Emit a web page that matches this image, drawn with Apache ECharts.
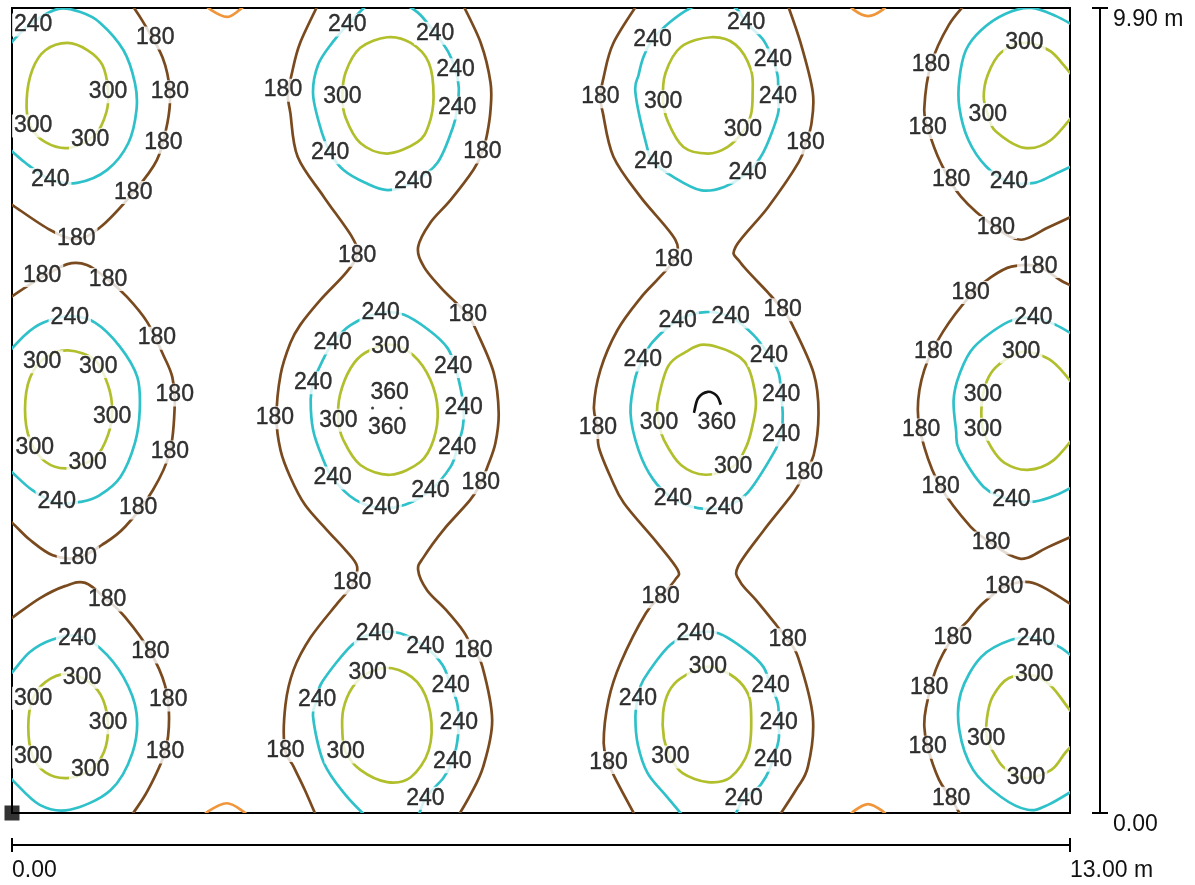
<!DOCTYPE html>
<html><head><meta charset="utf-8">
<script src="https://cdn.jsdelivr.net/npm/echarts/dist/echarts.min.js"></script>
<style>html,body{margin:0;padding:0;background:#fff}#c{width:1195px;height:885px}</style>
</head><body><div id="c"></div>
<script>
// ---- axis ticks (metres) ----
const xTicks = [0, 13];
const xTickLabels = ['0.00', '13.00 m'];
const yTicks = [0, 9.9];
const yTickLabels = ['0.00', '9.90 m'];

// ---- isolux contour polylines, in metres ----
const contour180 = [
  [[1.43,10.0],[1.61,9.73],[1.85,9.29],[1.94,8.87],[1.91,8.49],[1.78,8.03],[1.49,7.63],[1.08,7.20],[0.79,7.06],[0.47,7.17],[0,7.48],[-0.15,7.58]],
  [[-0.15,6.25],[0.16,6.46],[0.37,6.59],[0.68,6.75],[0.92,6.74],[1.18,6.56],[1.41,6.35],[1.66,6.04],[1.86,5.63],[1.97,5.36],[2.00,5.03],[1.94,4.44],[1.73,3.97],[1.39,3.52],[1.11,3.30],[0.81,3.14],[0.50,3.17],[0.22,3.36],[0,3.57],[-0.15,3.67]],
  [[-0.15,2.30],[0,2.40],[0.34,2.64],[0.65,2.79],[0.90,2.83],[1.17,2.62],[1.39,2.41],[1.70,1.98],[1.88,1.57],[1.93,1.17],[1.88,0.75],[1.67,0.28],[1.49,0],[1.39,-0.15]],
  [[3.79,10.0],[3.54,9.47],[3.44,9.10],[3.39,8.83],[3.42,8.61],[3.51,8.07],[3.83,7.58],[4.18,7.08],[4.24,6.86],[4.10,6.64],[3.79,6.31],[3.54,6.00],[3.42,5.78],[3.30,5.39],[3.25,4.86],[3.30,4.46],[3.42,4.13],[3.60,3.79],[3.87,3.48],[4.10,3.23],[4.24,3.03],[4.18,2.80],[4.00,2.58],[3.67,2.16],[3.46,1.76],[3.36,1.33],[3.35,0.80],[3.46,0.57],[3.60,0.28],[3.76,-0.09]],
  [[5.51,10.0],[5.76,9.47],[5.88,8.98],[5.88,8.65],[5.84,8.36],[5.78,8.13],[5.67,7.91],[5.39,7.54],[5.14,7.26],[4.99,6.96],[5.06,6.72],[5.26,6.47],[5.42,6.31],[5.60,6.13],[5.72,5.90],[5.92,5.41],[5.98,4.92],[5.94,4.55],[5.85,4.28],[5.76,4.06],[5.63,3.85],[5.30,3.48],[5.06,3.15],[4.99,2.99],[5.10,2.74],[5.33,2.50],[5.55,2.23],[5.67,2.00],[5.78,1.80],[5.90,1.14],[5.79,0.57],[5.63,0.22],[5.45,-0.09]],
  [[7.72,10.0],[7.39,9.47],[7.27,9.05],[7.23,8.81],[7.26,8.61],[7.39,8.07],[7.72,7.58],[8.15,7.05],[8.13,6.80],[7.95,6.58],[7.72,6.33],[7.44,5.94],[7.23,5.45],[7.15,4.99],[7.20,4.74],[7.21,4.50],[7.36,4.12],[7.52,3.81],[7.93,3.32],[8.18,2.99],[8.15,2.87],[7.97,2.66],[7.79,2.46],[7.48,1.85],[7.33,1.39],[7.27,0.86],[7.33,0.62],[7.42,0.41],[7.72,-0.15]],
  [[9.51,10.0],[9.69,9.47],[9.84,8.86],[9.82,8.46],[9.75,8.24],[9.67,8.01],[9.29,7.45],[8.89,6.96],[8.95,6.77],[9.29,6.40],[9.47,6.19],[9.59,6.00],[9.85,5.41],[9.91,4.92],[9.85,4.40],[9.73,4.18],[9.61,3.95],[9.24,3.48],[8.92,3.03],[8.95,2.84],[9.14,2.62],[9.36,2.35],[9.53,2.13],[9.66,1.91],[9.84,1.18],[9.78,0.57],[9.63,0.28],[9.35,-0.15]],
  [[11.76,10.0],[11.51,9.69],[11.29,9.20],[11.21,8.67],[11.25,8.43],[11.41,8.00],[11.66,7.58],[12.09,7.20],[12.40,7.05],[12.73,7.20],[13.20,7.42]],
  [[13.20,6.41],[12.92,6.53],[12.61,6.72],[12.28,6.72],[12.03,6.59],[11.78,6.37],[11.44,5.92],[11.21,5.45],[11.13,4.96],[11.21,4.50],[11.41,4.01],[11.78,3.52],[12.03,3.32],[12.31,3.15],[12.48,3.14],[12.73,3.27],[13.20,3.48]],
  [[13.20,2.44],[12.77,2.72],[12.50,2.84],[12.19,2.78],[11.91,2.56],[11.75,2.37],[11.56,2.16],[11.35,1.76],[11.23,1.29],[11.21,1.06],[11.25,0.81],[11.39,0.41],[11.54,0.18],[11.69,-0.09]]
];
const contour240 = [
  [[-0.09,9.36],[0.04,9.53],[0.26,9.73],[0.57,9.89],[0.84,9.85],[1.08,9.72],[1.37,9.38],[1.51,8.98],[1.53,8.65],[1.43,8.24],[1.17,7.91],[0.80,7.75],[0.47,7.79],[0.16,8.00],[-0.09,8.22]],
  [[-0.15,5.55],[0.16,5.88],[0.38,6.03],[0.71,6.11],[1.02,6.03],[1.33,5.73],[1.54,5.36],[1.57,4.96],[1.51,4.55],[1.33,4.13],[1.08,3.91],[0.86,3.83],[0.55,3.81],[0.25,3.97],[0,4.19],[-0.15,4.32]],
  [[-0.15,1.59],[0,1.73],[0.22,1.98],[0.49,2.13],[0.80,2.18],[1.08,2.03],[1.37,1.67],[1.53,1.23],[1.48,0.74],[1.21,0.28],[0.71,0.04],[0.34,0.10],[0,0.41],[-0.15,0.55]],
  [[3.70,8.83],[3.76,9.20],[3.94,9.48],[4.12,9.69],[4.43,9.98],[4.71,9.98],[4.98,9.85],[5.20,9.59],[5.36,9.36],[5.45,9.14],[5.49,8.92],[5.47,8.67],[5.42,8.44],[5.23,8.00],[4.93,7.76],[4.62,7.66],[4.34,7.75],[4.07,7.91],[3.91,8.12],[3.81,8.36],[3.70,8.83]],
  [[4.53,6.15],[4.81,6.13],[5.12,5.94],[5.35,5.72],[5.45,5.47],[5.51,5.23],[5.55,4.98],[5.54,4.75],[5.47,4.49],[5.39,4.26],[5.14,3.97],[4.83,3.79],[4.53,3.75],[4.22,3.85],[3.94,4.12],[3.81,4.38],[3.70,4.71],[3.67,5.08],[3.70,5.29],[3.81,5.55],[3.94,5.78],[4.16,6.00],[4.53,6.15]],
  [[4.46,-0.15],[4.10,0.22],[3.83,0.62],[3.70,1.18],[3.75,1.39],[3.81,1.61],[4.18,2.07],[4.46,2.21],[4.77,2.21],[5.08,2.04],[5.29,1.82],[5.39,1.57],[5.47,1.35],[5.49,1.11],[5.47,0.87],[5.41,0.63],[5.30,0.43],[5.08,0.18],[4.96,-0.15]],
  [[7.87,9.51],[8.09,9.73],[8.34,9.90],[8.61,9.98],[8.89,9.90],[9.02,9.72],[9.23,9.51],[9.35,9.26],[9.41,9.05],[9.41,8.81],[9.41,8.59],[9.23,8.12],[9.04,7.88],[8.75,7.70],[8.46,7.66],[8.13,7.82],[7.88,8.01],[7.79,8.24],[7.66,8.86],[7.70,9.08],[7.76,9.30],[7.87,9.51]],
  [[8.18,6.06],[8.52,6.16],[8.83,6.10],[9.11,5.88],[9.30,5.63],[9.42,5.41],[9.45,5.14],[9.47,4.90],[9.45,4.65],[9.36,4.43],[9.04,3.94],[8.75,3.76],[8.43,3.75],[8.12,3.87],[7.88,4.10],[7.70,4.46],[7.60,4.92],[7.66,5.36],[7.75,5.57],[7.87,5.79],[8.18,6.06]],
  [[8.34,-0.15],[8.03,0.22],[7.81,0.49],[7.69,0.84],[7.66,1.18],[7.69,1.41],[7.76,1.64],[8.09,2.07],[8.40,2.21],[8.68,2.21],[9.02,2.00],[9.23,1.80],[9.32,1.57],[9.41,1.35],[9.42,1.11],[9.42,0.90],[9.35,0.65],[9.26,0.44],[9.14,0.28],[8.99,0.18],[8.83,-0.15]],
  [[13.14,9.63],[12.83,9.80],[12.52,9.90],[12.21,9.83],[11.91,9.63],[11.72,9.38],[11.64,9.02],[11.64,8.68],[11.75,8.28],[11.97,7.95],[12.25,7.76],[12.56,7.75],[12.80,7.85],[13.14,8.01]],
  [[13.14,5.82],[12.83,6.00],[12.55,6.09],[12.24,6.04],[11.82,5.73],[11.64,5.39],[11.57,5.08],[11.60,4.71],[11.64,4.46],[11.94,4.01],[12.28,3.85],[12.56,3.83],[12.83,3.91],[13.14,4.07]],
  [[13.14,1.82],[12.89,2.03],[12.58,2.15],[12.28,2.13],[11.91,1.92],[11.66,1.48],[11.64,1.02],[11.81,0.53],[12.15,0.20],[12.48,0.04],[12.73,0.10],[13.14,0.34]]
];
const contour300 = [
  [[0.18,8.77],[0.25,9.14],[0.41,9.38],[0.68,9.47],[0.93,9.38],[1.11,9.20],[1.18,8.89],[1.16,8.62],[1.02,8.34],[0.71,8.18],[0.41,8.25],[0.22,8.46],[0.18,8.77]],
  [[0.69,5.69],[1.02,5.57],[1.18,5.26],[1.23,4.96],[1.18,4.65],[1.02,4.37],[0.69,4.24],[0.41,4.32],[0.22,4.59],[0.16,4.96],[0.22,5.35],[0.41,5.60],[0.69,5.69]],
  [[0.68,1.71],[0.96,1.60],[1.12,1.39],[1.18,1.06],[1.13,0.75],[0.96,0.53],[0.68,0.43],[0.41,0.50],[0.25,0.71],[0.20,1.06],[0.25,1.39],[0.41,1.61],[0.68,1.71]],
  [[4.61,9.54],[4.90,9.47],[5.12,9.23],[5.18,8.81],[5.12,8.46],[4.98,8.25],[4.61,8.11],[4.28,8.24],[4.10,8.55],[4.06,8.81],[4.10,9.11],[4.28,9.41],[4.61,9.54]],
  [[4.65,5.76],[4.93,5.63],[5.14,5.33],[5.23,4.96],[5.18,4.59],[5.02,4.32],[4.65,4.16],[4.28,4.28],[4.07,4.59],[4.01,4.83],[4.03,5.14],[4.16,5.47],[4.34,5.66],[4.65,5.76]],
  [[4.67,1.78],[4.98,1.61],[5.14,1.23],[5.12,0.77],[4.90,0.44],[4.61,0.38],[4.28,0.53],[4.10,0.75],[4.06,0.98],[4.07,1.27],[4.18,1.54],[4.37,1.72],[4.67,1.78]],
  [[8.59,9.54],[8.89,9.45],[9.08,9.14],[9.10,8.83],[9.08,8.59],[8.98,8.38],[8.79,8.19],[8.55,8.11],[8.25,8.19],[8.06,8.50],[8.00,8.77],[8.03,9.10],[8.22,9.42],[8.59,9.54]],
  [[8.50,5.76],[8.83,5.67],[9.04,5.49],[9.14,5.08],[9.10,4.77],[9.02,4.50],[8.86,4.26],[8.52,4.16],[8.22,4.28],[8.01,4.59],[7.95,4.80],[7.93,5.02],[8.06,5.49],[8.28,5.67],[8.50,5.76]],
  [[8.55,1.80],[8.83,1.70],[9.02,1.51],[9.08,1.27],[9.05,0.77],[8.83,0.44],[8.55,0.38],[8.24,0.49],[8.09,0.69],[8.01,0.92],[8.00,1.23],[8.07,1.49],[8.22,1.66],[8.55,1.80]],
  [[13.14,8.92],[12.92,9.20],[12.74,9.38],[12.44,9.47],[12.15,9.35],[11.99,9.08],[11.94,8.81],[11.99,8.59],[12.09,8.38],[12.44,8.18],[12.77,8.28],[13.14,8.71]],
  [[13.14,5.14],[12.89,5.45],[12.71,5.60],[12.40,5.67],[12.12,5.51],[12.00,5.36],[11.93,5.14],[11.91,4.93],[11.93,4.72],[12.03,4.50],[12.19,4.31],[12.48,4.22],[12.80,4.34],[13.14,4.74]],
  [[13.16,1.05],[12.95,1.33],[12.77,1.56],[12.56,1.69],[12.25,1.66],[12.05,1.43],[11.98,1.17],[11.98,0.92],[12.08,0.71],[12.20,0.55],[12.46,0.43],[12.77,0.53],[12.95,0.75],[13.16,0.96]]
];
const contour360 = [
  [[8.38,4.92],[8.43,5.10],[8.55,5.18],[8.66,5.13],[8.71,5.02]]
];
const contour120 = [
  [[2.31,10.0],[2.44,9.88],[2.64,9.79],[2.80,9.88],[2.93,10.0]],
  [[2.31,-0.09],[2.41,0.02],[2.64,0.12],[2.84,0.02],[2.95,-0.09]],
  [[10.25,10.0],[10.34,9.88],[10.52,9.80],[10.70,9.88],[10.80,10.0]],
  [[10.25,-0.09],[10.34,0.02],[10.52,0.11],[10.70,0.02],[10.80,-0.09]]
];

// ---- contour label positions, in metres ----
const label180 = [[1.76,9.53],[1.94,8.87],[1.86,8.25],[1.49,7.63],[0.79,7.06],[0.37,6.61],[1.18,6.56],[1.78,5.84],[2.00,5.14],[1.94,4.44],[1.55,3.75],[0.81,3.14],[1.17,2.62],[1.70,1.98],[1.92,1.39],[1.88,0.75],
  [3.33,8.89],[5.78,8.13],[4.24,6.86],[5.60,6.13],[3.23,4.86],[5.76,4.06],[4.18,2.83],[5.67,2.00],[3.36,0.77],
  [7.23,8.81],[9.75,8.24],[8.13,6.80],[9.47,6.19],[7.20,4.74],[9.73,4.18],[7.97,2.66],[9.53,2.13],[7.33,0.62],
  [11.29,9.20],[11.25,8.43],[11.54,7.79],[12.09,7.20],[12.61,6.72],[11.78,6.40],[11.32,5.67],[11.17,4.71],[11.41,4.01],[12.03,3.32],[12.19,2.78],[11.56,2.16],[11.27,1.54],[11.25,0.81],[11.54,0.18]];
const label240 = [[0.26,9.69],[0.47,7.79],[0.71,6.09],[0.55,3.83],[0.80,2.15],
  [4.12,9.69],[5.20,9.59],[5.45,9.14],[5.47,8.67],[3.91,8.12],[4.93,7.76],
  [4.53,6.15],[5.42,5.49],[5.55,4.98],[5.47,4.49],[5.14,3.97],[4.53,3.75],[3.94,4.12],[3.70,5.29],[3.94,5.78],
  [4.46,2.21],[5.08,2.04],[5.39,1.57],[5.49,1.11],[5.41,0.63],[5.08,0.18],[3.75,1.39],
  [7.87,9.51],[9.02,9.72],[9.35,9.26],[9.41,8.81],[7.88,8.01],[9.04,7.88],
  [8.18,6.06],[8.83,6.10],[9.30,5.63],[9.45,5.14],[9.45,4.65],[8.75,3.76],[8.12,3.87],[7.75,5.57],
  [8.40,2.21],[9.32,1.57],[9.42,1.11],[9.35,0.65],[8.99,0.18],[7.69,1.41],
  [12.25,7.76],[12.55,6.09],[12.28,3.85],[12.58,2.15]];
const label300 = [[1.18,8.87],[0.26,8.45],[0.96,8.28],[0.37,5.55],[1.06,5.49],[1.23,4.87],[0.28,4.49],[0.93,4.31],[0.86,1.67],[0.26,1.41],[1.18,1.11],[0.26,0.69],[0.96,0.53],
  [4.06,8.81],[4.65,5.73],[4.01,4.83],[4.37,1.72],[4.10,0.75],
  [8.00,8.75],[8.98,8.40],[7.95,4.80],[8.86,4.26],[8.55,1.80],[8.09,0.69],
  [12.44,9.47],[11.99,8.59],[12.40,5.67],[11.93,5.14],[11.93,4.72],[12.56,1.70],[11.97,0.92],[12.46,0.43]];
const label360 = [[4.64,5.17],[4.61,4.74],[8.66,4.80]];
const dots360 = [[4.43,4.98],[4.78,4.98]];
const origin = [[0, 0]];

// ---- styling ----
const FONT = '"Liberation Sans", Arial, sans-serif';
const levels = [
  {value:120, color:'#f0953a', lines:contour120, labels:[]},
  {value:180, color:'#7a4a1f', lines:contour180, labels:label180},
  {value:240, color:'#2fc1ca', lines:contour240, labels:label240},
  {value:300, color:'#b2bf2c', lines:contour300, labels:label300},
  {value:360, color:'#111111', lines:contour360, labels:label360}
];

// Catmull-Rom smoothed path through pixel points (closed if first == last)
function smoothPath(P) {
  let pts = P.slice();
  const closed = pts.length > 3 && Math.abs(pts[0][0]-pts[pts.length-1][0]) < 0.5 && Math.abs(pts[0][1]-pts[pts.length-1][1]) < 0.5;
  if (closed) pts.pop();
  const n = pts.length;
  const get = i => closed ? pts[(i + n) % n] : pts[Math.max(0, Math.min(n - 1, i))];
  let d = 'M' + pts[0][0].toFixed(2) + ' ' + pts[0][1].toFixed(2);
  const segs = closed ? n : n - 1;
  for (let i = 0; i < segs; i++) {
    const p0 = get(i - 1), p1 = get(i), p2 = get(i + 1), p3 = get(i + 2);
    const c1x = p1[0] + (p2[0] - p0[0]) / 6, c1y = p1[1] + (p2[1] - p0[1]) / 6;
    const c2x = p2[0] - (p3[0] - p1[0]) / 6, c2y = p2[1] - (p3[1] - p1[1]) / 6;
    d += ' C' + c1x.toFixed(2) + ' ' + c1y.toFixed(2) + ' ' + c2x.toFixed(2) + ' ' + c2y.toFixed(2) + ' ' + p2[0].toFixed(2) + ' ' + p2[1].toFixed(2);
  }
  if (closed) d += ' Z';
  return d;
}

const series = [];
levels.forEach(lv => {
  series.push({
    type:'custom', coordinateSystem:'cartesian2d', silent:true, z:2, animation:false,
    data: lv.lines.map((_, i) => [i]),
    renderItem: (params, api) => {
      const pts = lv.lines[params.dataIndex].map(p => api.coord(p));
      const cs = params.coordSys;
      return {
        type:'group',
        clipPath:{type:'rect', shape:{x:cs.x, y:cs.y, width:cs.width, height:cs.height}},
        children:[{type:'path', shape:{pathData: smoothPath(pts)},
          style:{stroke:lv.color, fill:null, lineWidth:2.7, lineJoin:'round', lineCap:'butt'}}]
      };
    }
  });
});
levels.forEach(lv => {
  if (!lv.labels.length) return;
  series.push({
    type:'scatter', data:lv.labels, symbolSize:1, itemStyle:{color:'rgba(0,0,0,0)'}, silent:true, z:6, animation:false,
    label:{show:true, position:'inside', formatter:String(lv.value), color:'#000000', fontSize:23,
      fontFamily:FONT, backgroundColor:'#ffffff', padding:[1,2], lineHeight:21,
      textBorderColor:'#000000', textBorderWidth:0.4}
  });
});
series.push({type:'scatter', data:dots360, symbolSize:3, itemStyle:{color:'#111'}, silent:true, z:7, animation:false});
series.push({type:'scatter', data:origin, symbol:'rect', symbolSize:15, itemStyle:{color:'#000'}, clip:false, silent:true, z:8, animation:false});

function pick(ticks, labels, v){ for (let i=0;i<ticks.length;i++){ if (Math.abs(ticks[i]-v)<1e-6) return labels[i]; } return ''; }
const lineSt = {color:'#000', width:2};

const option = {
  animation:false,
  backgroundColor:'#ffffff',
  grid:{left:12, top:8, width:1058, height:805, show:true, borderColor:'#000', borderWidth:2, backgroundColor:'transparent'},
  xAxis:[
    {type:'value', min:0, max:13, interval:13, position:'bottom', offset:32,
     axisLine:{show:true, onZero:false, lineStyle:lineSt}, axisTick:{show:true, length:7, lineStyle:lineSt},
     axisLabel:{show:true, align:'left', margin:14, fontSize:23, color:'#111', fontFamily:FONT, showMinLabel:true, showMaxLabel:true,
       formatter:v => pick(xTicks, xTickLabels, v)}, splitLine:{show:false}},
    {type:'value', min:0, max:13, interval:13, position:'bottom', offset:32,
     axisLine:{show:false, onZero:false}, axisTick:{show:true, inside:true, length:7, lineStyle:lineSt},
     axisLabel:{show:false}, splitLine:{show:false}}
  ],
  yAxis:[
    {type:'value', min:0, max:9.9, interval:9.9, position:'right', offset:30,
     axisLine:{show:true, onZero:false, lineStyle:lineSt}, axisTick:{show:true, length:8, lineStyle:lineSt},
     axisLabel:{show:true, align:'left', verticalAlign:'top', margin:13, fontSize:23, color:'#111', fontFamily:FONT, showMinLabel:true, showMaxLabel:true,
       formatter:v => pick(yTicks, yTickLabels, v)}, splitLine:{show:false}},
    {type:'value', min:0, max:9.9, interval:9.9, position:'right', offset:30,
     axisLine:{show:false, onZero:false}, axisTick:{show:true, inside:true, length:8, lineStyle:lineSt},
     axisLabel:{show:false}, splitLine:{show:false}}
  ],
  series: series.map(s => Object.assign({xAxisIndex:0, yAxisIndex:0}, s))
};
const chart = echarts.init(document.getElementById('c'), null, {renderer:'canvas'});
chart.setOption(option);
</script>
</body></html>
